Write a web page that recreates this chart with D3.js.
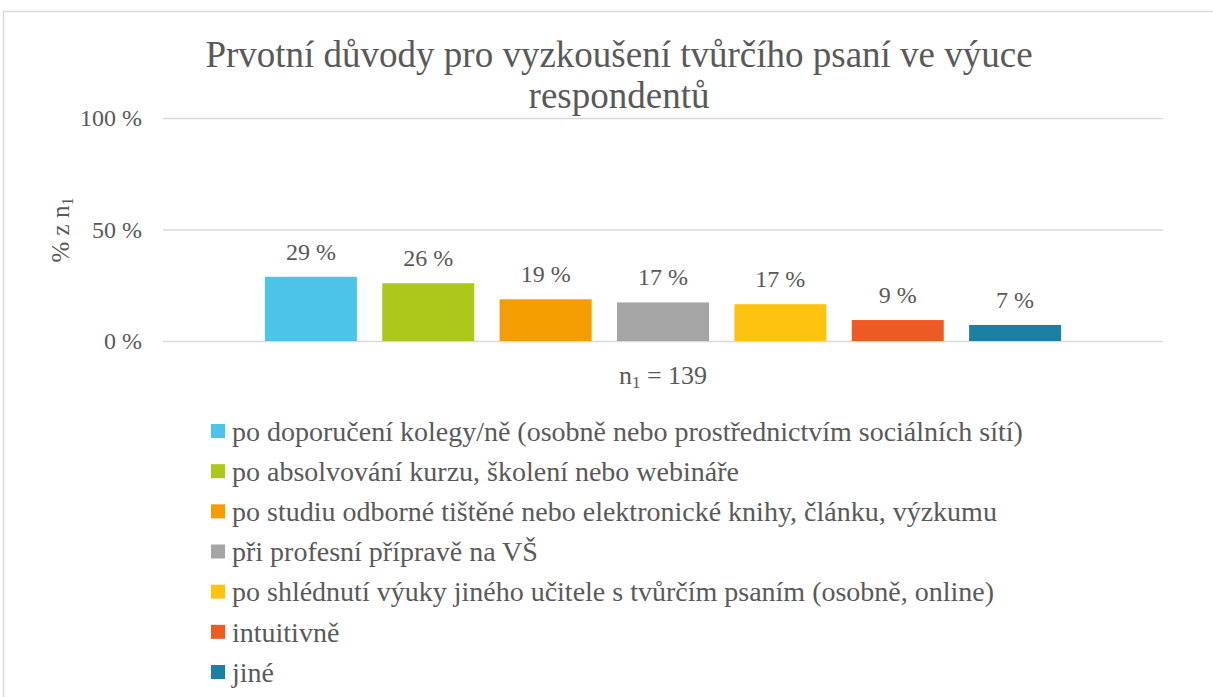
<!DOCTYPE html>
<html>
<head>
<meta charset="utf-8">
<script src="https://cdn.jsdelivr.net/npm/d3@7"></script>
<style>
  body { margin: 0; background: #fff; }
  svg text { font-family: "Liberation Serif", "Times New Roman", serif; fill: #595959; }
</style>
</head>
<body>
<svg id="chart" width="1213" height="697"></svg>
<script>
// data
var categories = ["n1 = 139"];
var seriesNames = [
  "po doporučení kolegy/ně (osobně nebo prostřednictvím sociálních sítí)",
  "po absolvování kurzu, školení nebo webináře",
  "po studiu odborné tištěné nebo elektronické knihy, článku, výzkumu",
  "při profesní přípravě na VŠ",
  "po shlédnutí výuky jiného učitele s tvůrčím psaním (osobně, online)",
  "intuitivně",
  "jiné"
];
var values = [28.8, 25.9, 18.7, 17.3, 16.5, 9.4, 7.2];
var colors = ["#4bc4e8", "#aec71b", "#f49d00", "#a5a5a5", "#fdc30f", "#ee5a24", "#1b80a2"];
var yTicks = [0, 50, 100];
var titleLines = ["Prvotní důvody pro vyzkoušení tvůrčího psaní ve výuce", "respondentů"];

var svg = d3.select("#chart");

// chart frame
svg.append("rect")
  .attr("x", 3.5).attr("y", 11.5)
  .attr("width", 1300).attr("height", 800)
  .attr("fill", "none")
  .attr("stroke", "#d9d9d9")
  .attr("stroke-width", 1.5);

// title
svg.append("g").selectAll("text")
  .data(titleLines)
  .enter().append("text")
  .attr("x", 619)
  .attr("y", function(d, i) { return 67 + i * 41; })
  .attr("text-anchor", "middle")
  .style("font-size", "37px")
  .text(function(d) { return d; });

var x0 = d3.scaleBand().domain(categories).range([163, 1163]);
var x1 = d3.scaleBand().domain(seriesNames)
  .range([0, x0.bandwidth()])
  .paddingInner(0.216)
  .paddingOuter(0.868);
var y = d3.scaleLinear().domain([0, 100]).range([341, 118]);

// y axis + gridlines
var yAxis = svg.append("g")
  .attr("transform", "translate(163,0)")
  .call(d3.axisLeft(y)
    .tickValues(yTicks)
    .tickSize(-1000)
    .tickPadding(21)
    .tickFormat(function(d) { return d + " %"; }));
yAxis.attr("font-family", null);
yAxis.select(".domain").remove();
yAxis.selectAll(".tick line").attr("stroke", "#d9d9d9").attr("stroke-width", 1.5);
yAxis.selectAll(".tick text")
  .style("font-size", "24px")
  .attr("fill", "#595959");

// y title
var yTitle = svg.append("text")
  .attr("transform", "translate(69,230) rotate(-90)")
  .attr("text-anchor", "middle")
  .style("font-size", "25px");
yTitle.append("tspan").text("% z n");
yTitle.append("tspan").attr("baseline-shift", "-25%").style("font-size", "16px").text("1");

// bars
var group = svg.append("g")
  .attr("transform", "translate(" + x0(categories[0]) + ",0)");

group.selectAll("rect")
  .data(values)
  .enter().append("rect")
  .attr("x", function(d, i) { return x1(seriesNames[i]); })
  .attr("y", function(d) { return y(d); })
  .attr("width", x1.bandwidth())
  .attr("height", function(d) { return y(0) - y(d); })
  .attr("fill", function(d, i) { return colors[i]; });

group.selectAll(".val")
  .data(values)
  .enter().append("text")
  .attr("class", "val")
  .attr("x", function(d, i) { return x1(seriesNames[i]) + x1.bandwidth() / 2; })
  .attr("y", function(d) { return y(d) - 17; })
  .attr("text-anchor", "middle")
  .style("font-size", "24px")
  .text(function(d) { return Math.round(d) + " %"; });

// category label
var cat = svg.append("text")
  .attr("x", x0(categories[0]) + x0.bandwidth() / 2)
  .attr("y", 384)
  .attr("text-anchor", "middle")
  .style("font-size", "26px");
cat.append("tspan").text("n");
cat.append("tspan").attr("baseline-shift", "-25%").style("font-size", "17px").text("1");
cat.append("tspan").text(" = 139");

// legend
var ly = d3.scalePoint().domain(seriesNames).range([431, 672]);
var legend = svg.append("g").selectAll("g")
  .data(seriesNames)
  .enter().append("g")
  .attr("transform", function(d) { return "translate(211," + ly(d) + ")"; });

legend.append("rect")
  .attr("x", 0).attr("y", -7)
  .attr("width", 14).attr("height", 14)
  .attr("fill", function(d, i) { return colors[i]; });

legend.append("text")
  .attr("x", 21)
  .attr("dy", "0.35em")
  .style("font-size", "28px")
  .text(function(d) { return d; });
</script>
</body>
</html>
